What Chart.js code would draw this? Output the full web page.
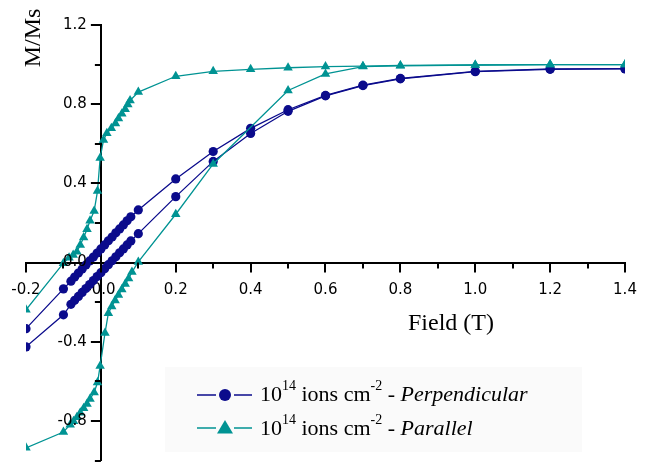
<!DOCTYPE html>
<html>
<head>
<meta charset="utf-8">
<script src="https://cdn.jsdelivr.net/npm/chart.js@4/dist/chart.umd.min.js"></script>
<style>
  html, body { margin: 0; padding: 0; background: #fff; }
  #wrap { width: 647px; height: 466px; position: relative; }
</style>
</head>
<body>
<div id="wrap"><canvas id="hyst"></canvas></div>
<script>
const perpFieldDown = [1.4, 1.2, 1.0, 0.8, 0.7, 0.6, 0.5, 0.4, 0.3, 0.2, 0.1,
  0.08, 0.07, 0.06, 0.05, 0.04, 0.03, 0.02, 0.01, 0.0, -0.01, -0.02, -0.03, -0.04, -0.05, -0.06, -0.07, -0.08,
  -0.1, -0.2];
const perpMDown = [0.98, 0.978, 0.966, 0.93, 0.896, 0.844, 0.772, 0.678, 0.561, 0.4225, 0.266,
  0.231, 0.211, 0.190, 0.170, 0.150, 0.129, 0.110, 0.089, 0.069, 0.048, 0.028, 0.008, -0.012, -0.033, -0.053, -0.073, -0.094,
  -0.133, -0.334];

const perpFieldUp = [-0.2, -0.1,
  -0.08, -0.07, -0.06, -0.05, -0.04, -0.03, -0.02, -0.01, 0.0, 0.01, 0.02, 0.03, 0.04, 0.05, 0.06, 0.07, 0.08,
  0.1, 0.2, 0.3, 0.4, 0.5, 0.6, 0.7, 0.8, 1.0, 1.2, 1.4];
const perpMUp = [-0.426, -0.264,
  -0.211, -0.191, -0.171, -0.151, -0.131, -0.111, -0.091, -0.071, -0.051, -0.031, -0.011, 0.009, 0.029, 0.049, 0.069, 0.089, 0.109,
  0.146, 0.333, 0.511, 0.652, 0.764, 0.842, 0.894, 0.928, 0.964, 0.976, 0.978];

const parFieldDown = [1.4, 1.2, 1.0, 0.8, 0.7, 0.6, 0.5, 0.4, 0.3, 0.2, 0.1,
  0.078, 0.072, 0.065, 0.056, 0.047, 0.039, 0.028, 0.016, 0.007, -0.002,
  -0.009, -0.018, -0.029, -0.037, -0.046, -0.055, -0.064, -0.074, -0.085,
  -0.1, -0.2];
const parMDown = [1.0, 1.0, 0.998, 0.996, 0.992, 0.99, 0.984, 0.976, 0.966, 0.941, 0.861,
  0.819, 0.798, 0.774, 0.752, 0.728, 0.703, 0.678, 0.653, 0.619, 0.528,
  0.361, 0.26, 0.211, 0.168, 0.126, 0.089, 0.055, 0.038, 0.024,
  -0.003, -0.239];

const parFieldUp = [-0.2, -0.1,
  -0.082, -0.073, -0.064, -0.055, -0.046, -0.037, -0.029, -0.018, -0.009, -0.002,
  0.011, 0.02, 0.029, 0.038, 0.047, 0.056, 0.065, 0.074, 0.083,
  0.1, 0.2, 0.3, 0.5, 0.6, 0.7, 0.8, 1.0, 1.2, 1.4];
const parMUp = [-0.936, -0.856,
  -0.819, -0.802, -0.781, -0.759, -0.736, -0.714, -0.689, -0.656, -0.606, -0.523,
  -0.356, -0.256, -0.222, -0.192, -0.164, -0.136, -0.109, -0.081, -0.048,
  0.003, 0.244, 0.498, 0.869, 0.953, 0.99, 0.994, 0.998, 1.0, 1.0];

const xTicks = [-0.2, 0.0, 0.2, 0.4, 0.6, 0.8, 1.0, 1.2, 1.4];
const yTicks = [-0.8, -0.4, 0.0, 0.4, 0.8, 1.2];

const navy = "#0b0b8c";
const teal = "#009393";

function pts(xs, ys) {
  return xs.map((x, i) => ({ x: x, y: ys[i] }));
}

function isLabelled(list, v) {
  return list.some(t => Math.abs(t - v) < 1e-6);
}

function loopSet(data, color, style, r) {
  return {
    data: data,
    borderColor: color,
    backgroundColor: color,
    borderWidth: 1.3,
    pointStyle: style,
    pointRadius: r,
    pointBorderWidth: 0,
    pointBackgroundColor: color,
    tension: 0,
    clip: 0
  };
}

// axes sit on x=0 / y=0, so they take no room of their own
function noRoom(s) {
  if (s.isHorizontal()) s.height = 0; else s.width = 0;
  s.paddingLeft = 0; s.paddingRight = 0;
  s.paddingTop = 0; s.paddingBottom = 0;
}

// ticks (long + short), y labels, axis titles and the legend box
const decor = {
  id: "decor",
  afterDatasetsDraw(chart) {
    const ctx = chart.ctx;
    const xs = chart.scales.x, ys = chart.scales.y;
    const x0 = xs.getPixelForValue(0), y0 = ys.getPixelForValue(0);
    ctx.save();
    ctx.strokeStyle = "#000";
    ctx.lineWidth = 2;
    xs.ticks.forEach(t => {
      const len = isLabelled(xTicks, t.value) ? 10 : 6;
      const px = Math.round(xs.getPixelForValue(t.value));
      ctx.beginPath(); ctx.moveTo(px, y0); ctx.lineTo(px, y0 + len); ctx.stroke();
    });
    ys.ticks.forEach(t => {
      const len = isLabelled(yTicks, t.value) ? 10 : 6;
      const py = Math.round(ys.getPixelForValue(t.value));
      ctx.beginPath(); ctx.moveTo(x0, py); ctx.lineTo(x0 - len, py); ctx.stroke();
    });

    ctx.fillStyle = "#000";
    ctx.font = '15px "DejaVu Sans"';
    ctx.textAlign = "right";
    ctx.textBaseline = "middle";
    yTicks.forEach(v => {
      ctx.fillText(v.toFixed(1), x0 - 14, ys.getPixelForValue(v));
    });

    ctx.font = '24px "Liberation Serif"';
    ctx.textBaseline = "alphabetic";
    ctx.textAlign = "center";
    ctx.fillText("Field (T)", 451, 330);
    ctx.save();
    ctx.translate(40, 38);
    ctx.rotate(-Math.PI / 2);
    ctx.fillText("M/Ms", 0, 0);
    ctx.restore();

    // legend
    ctx.fillStyle = "#fafafa";
    ctx.fillRect(165, 367, 417, 85);
    const rows = [
      { color: navy, style: "circle", name: "Perpendicular", y: 395, base: 401 },
      { color: teal, style: "triangle", name: "Parallel", y: 428, base: 435 }
    ];
    rows.forEach(row => {
      ctx.strokeStyle = row.color;
      ctx.lineWidth = 1.6;
      ctx.beginPath();
      ctx.moveTo(197, row.y); ctx.lineTo(216, row.y);
      ctx.moveTo(234, row.y); ctx.lineTo(252, row.y);
      ctx.stroke();
      ctx.fillStyle = row.color;
      ctx.beginPath();
      if (row.style === "circle") {
        ctx.arc(225, row.y, 6, 0, Math.PI * 2);
      } else {
        ctx.moveTo(225, row.y - 8);
        ctx.lineTo(233, row.y + 5.5);
        ctx.lineTo(217, row.y + 5.5);
        ctx.closePath();
      }
      ctx.fill();

      ctx.fillStyle = "#000";
      ctx.textAlign = "left";
      let x = 260;
      const parts = [
        ["10", '22px "Liberation Serif"', 0],
        ["14", '14px "Liberation Serif"', -11],
        [" ions cm", '22px "Liberation Serif"', 0],
        ["-2", '14px "Liberation Serif"', -11],
        [" - ", '22px "Liberation Serif"', 0],
        [row.name, 'italic 22px "Liberation Serif"', 0]
      ];
      parts.forEach(p => {
        ctx.font = p[1];
        ctx.fillText(p[0], x, row.base + p[2]);
        x += ctx.measureText(p[0]).width;
      });
    });
    ctx.restore();
  }
};

new Chart(document.getElementById("hyst"), {
  type: "line",
  data: {
    datasets: [
      loopSet(pts(parFieldDown, parMDown), teal, "triangle", 5.5),
      loopSet(pts(parFieldUp, parMUp), teal, "triangle", 5.5),
      loopSet(pts(perpFieldDown, perpMDown), navy, "circle", 4.6),
      loopSet(pts(perpFieldUp, perpMUp), navy, "circle", 4.6)
    ]
  },
  options: {
    responsive: true,
    maintainAspectRatio: false,
    animation: false,
    layout: { padding: { left: 26, right: 22, top: 25, bottom: 0 } },
    plugins: { legend: { display: false }, tooltip: { enabled: false } },
    scales: {
      x: {
        type: "linear",
        position: { y: 0 },
        min: -0.2,
        max: 1.4,
        afterFit: noRoom,
        border: { color: "#000", width: 2 },
        grid: { drawOnChartArea: false, drawTicks: false },
        ticks: {
          stepSize: 0.1,
          autoSkip: false,
          maxRotation: 0,
          padding: 19,
          color: "#000",
          font: { family: "DejaVu Sans", size: 15 },
          callback: v => isLabelled(xTicks, v) ? v.toFixed(1) : ""
        }
      },
      y: {
        type: "linear",
        position: { x: 0 },
        min: -1.0,
        max: 1.2,
        afterFit: noRoom,
        border: { color: "#000", width: 2 },
        grid: { drawOnChartArea: false, drawTicks: false },
        ticks: {
          stepSize: 0.2,
          autoSkip: false,
          display: false
        }
      }
    }
  },
  plugins: [decor]
});
</script>
</body>
</html>
